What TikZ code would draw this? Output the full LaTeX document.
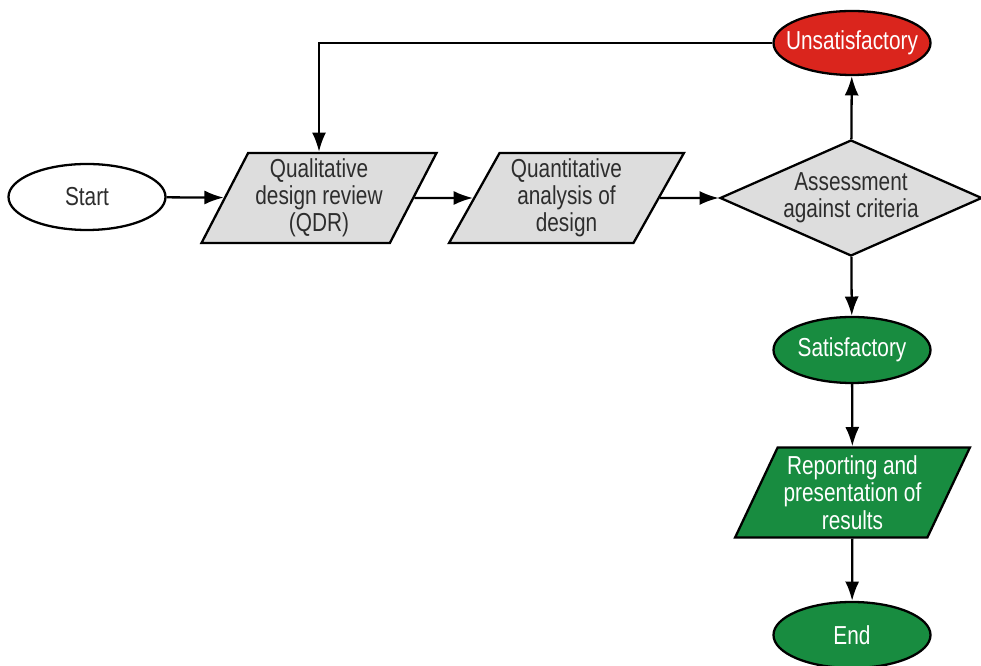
\documentclass[tikz,border=0pt]{standalone}
\usepackage{fontspec}
\setmainfont{Liberation Sans}[FakeStretch=0.8]
\usetikzlibrary{shapes.geometric,arrows.meta}
\definecolor{boxgray}{RGB}{221,221,221}
\definecolor{unsatred}{RGB}{218,37,29}
\definecolor{satgreen}{RGB}{24,140,64}
\definecolor{textgray}{RGB}{45,45,45}
\begin{document}
\begin{tikzpicture}[
			font=\fontsize{14.8}{15.5}\selectfont,
			line width=1.3pt,
			terminal/.style={ellipse, draw, minimum width=3.14cm, minimum height=1.32cm, inner xsep=-12pt, inner ysep=0pt, text=textgray},
			iobox/.style={trapezium, trapezium left angle=62, trapezium right angle=118, trapezium stretches=true,
				draw, fill=boxgray, minimum width=4.7cm, minimum height=1.8cm, inner sep=0pt, align=center, text=textgray},
			decision/.style={diamond, draw, fill=boxgray, aspect=2.26, minimum width=5.24cm, minimum height=2.32cm,
				inner sep=0pt, align=center, text=textgray},
			flow/.style={-{Latex[length=11pt,width=8pt]}}
			]
			\useasboundingbox (0,0) rectangle (19.62,-13.32);
			% main row
			\node[terminal] (start) at (1.74,-3.94) {Start};
			\node[iobox] (qdr) at (6.38,-3.96) {Qualitative\\design review\\(QDR)};
			\node[iobox] (quant) at (11.33,-3.96) {Quantitative\\analysis of\\design};
			\node[decision] (assess) at (17.02,-3.96) {Assessment\\against criteria};
			% outcomes
			\node[terminal, fill=unsatred, text=white, minimum height=1.28cm] (unsat) at (17.04,-0.86) {Unsatisfactory};
			\node[terminal, fill=satgreen, text=white] (sat) at (17.04,-7.0) {Satisfactory};
			\node[iobox, fill=satgreen, text=white] (report) at (17.05,-9.85) {Reporting and\\presentation of\\results};
			\node[terminal, fill=satgreen, text=white] (stop) at (17.04,-12.7) {End};
			% connectors
			\draw[flow] (start) -- (qdr);
			\draw[flow] (qdr) -- (quant);
			\draw[flow] (quant) -- (assess);
			\draw[flow] (assess) -- (unsat);
			\draw[flow] (assess) -- (sat);
			\draw[flow] (sat) -- (report);
			\draw[flow] (report) -- (stop);
			\draw[flow] (unsat.west) -| (qdr.north);
		\end{tikzpicture}
\end{document}
